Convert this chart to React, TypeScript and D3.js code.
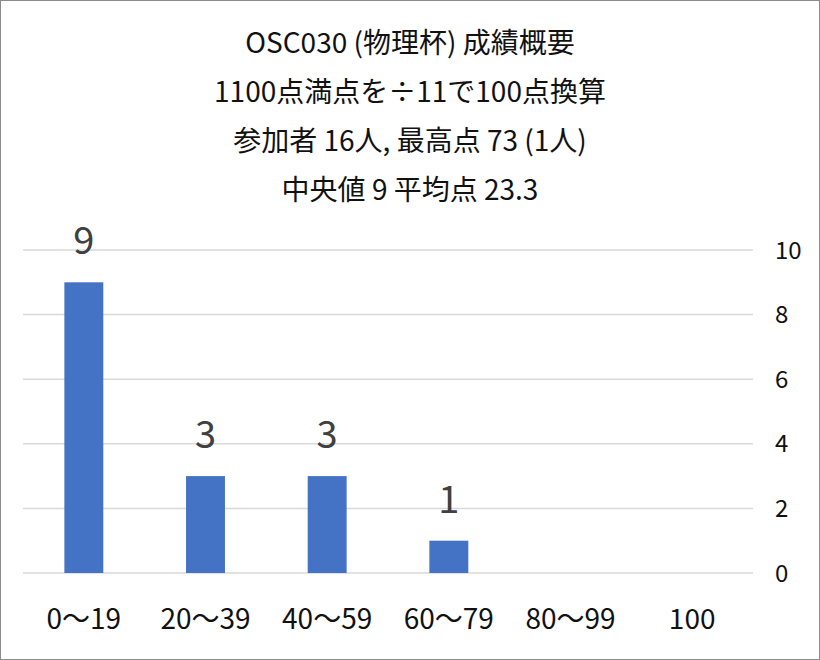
import React, { useEffect, useRef } from 'react';
import * as d3 from 'd3';

const titleLines = [
  'OSC030 (物理杯) 成績概要',
  '1100点満点を÷11で100点換算',
  '参加者 16人, 最高点 73 (1人)',
  '中央値 9 平均点 23.3',
];
const categories = ['0〜19', '20〜39', '40〜59', '60〜79', '80〜99', '100'];
const counts = [9, 3, 3, 1, 0, 0];
const yTicks = [0, 2, 4, 6, 8, 10];

const FONT = '"Noto Sans CJK JP", "Noto Sans", sans-serif';

const App: React.FC = () => {
  const svgRef = useRef<SVGSVGElement>(null);

  useEffect(() => {
    if (!svgRef.current) return;
    const svg = d3.select(svgRef.current);
    svg.selectAll('*').remove();

    const width = 820;
    const height = 660;
    const plot = { left: 23, right: 753, top: 250, bottom: 573 };

    svg
      .append('rect')
      .attr('x', 0.5)
      .attr('y', 0.5)
      .attr('width', width - 1)
      .attr('height', height - 1)
      .attr('fill', '#fff')
      .attr('stroke', '#8c8c8c');

    svg
      .selectAll('text.title')
      .data(titleLines)
      .enter()
      .append('text')
      .attr('class', 'title')
      .attr('x', 410)
      .attr('y', (_, i) => 53 + i * 49)
      .attr('text-anchor', 'middle')
      .attr('font-size', 28)
      .attr('fill', '#111')
      .text((d) => d);

    const x = d3.scaleBand().domain(categories).range([plot.left, plot.right]).padding(0);
    const y = d3.scaleLinear().domain([0, 10]).range([plot.bottom, plot.top]);

    // gridlines
    svg
      .selectAll('line.grid')
      .data(yTicks)
      .enter()
      .append('line')
      .attr('x1', plot.left)
      .attr('x2', plot.right)
      .attr('y1', (d) => y(d))
      .attr('y2', (d) => y(d))
      .attr('stroke', '#d9d9d9')
      .attr('stroke-width', 1.5);

    // right axis labels
    svg
      .selectAll('text.ytick')
      .data(yTicks)
      .enter()
      .append('text')
      .attr('class', 'ytick')
      .attr('x', 775)
      .attr('y', (d) => y(d))
      .attr('dy', '0.36em')
      .attr('font-size', 24)
      .attr('fill', '#111')
      .text((d) => d);

    const barW = x.bandwidth() * 0.32;
    const bars = counts.map((c, i) => ({ cat: categories[i], c }));

    svg
      .selectAll('rect.bar')
      .data(bars.filter((d) => d.c > 0))
      .enter()
      .append('rect')
      .attr('class', 'bar')
      .attr('x', (d) => (x(d.cat) || 0) + x.bandwidth() / 2 - barW / 2)
      .attr('y', (d) => y(d.c))
      .attr('width', barW)
      .attr('height', (d) => y(0) - y(d.c))
      .attr('fill', '#4472C4');

    svg
      .selectAll('text.val')
      .data(bars.filter((d) => d.c > 0))
      .enter()
      .append('text')
      .attr('class', 'val')
      .attr('x', (d) => (x(d.cat) || 0) + x.bandwidth() / 2)
      .attr('y', (d) => y(d.c) - 28)
      .attr('text-anchor', 'middle')
      .attr('font-size', 38)
      .attr('fill', '#404040')
      .text((d) => d.c);

    svg
      .selectAll('text.cat')
      .data(categories)
      .enter()
      .append('text')
      .attr('class', 'cat')
      .attr('x', (d) => (x(d) || 0) + x.bandwidth() / 2)
      .attr('y', 629)
      .attr('text-anchor', 'middle')
      .attr('font-size', 28)
      .attr('fill', '#111')
      .text((d) => d);
  }, []);

  return (
    <div style={{ position: 'absolute', left: 0, top: 0 }}>
      <svg ref={svgRef} width="820" height="660" style={{ display: 'block', fontFamily: FONT }}></svg>
    </div>
  );
};

export default App;
